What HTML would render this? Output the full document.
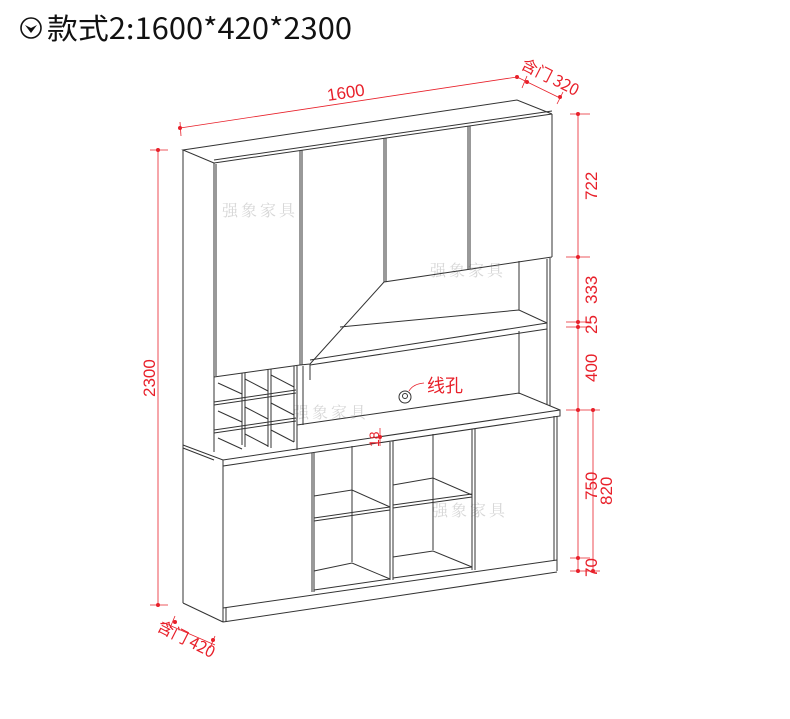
<!DOCTYPE html>
<html><head><meta charset="utf-8"><style>
html,body{margin:0;padding:0;background:#fff;}
svg{display:block;}
</style></head><body>
<svg width="790" height="719" viewBox="0 0 790 719" xmlns="http://www.w3.org/2000/svg" font-family="'Liberation Sans','Noto Sans CJK SC',sans-serif">
<!-- title -->
<circle cx="31" cy="28" r="10" fill="none" stroke="#111" stroke-width="1.6"/>
<path d="M25 25 L31 33 L37 25 L31 28 Z" fill="#111"/>
<text x="47" y="39" font-size="29" fill="#111" font-family="'Noto Sans CJK SC',sans-serif" textLength="305" lengthAdjust="spacingAndGlyphs">款式2:1600*420*2300</text>

<!-- watermarks -->
<g fill="#d6d6d6" font-size="16" font-family="'Noto Serif CJK SC',serif" letter-spacing="3">
<text x="222" y="216">强象家具</text>
<text x="430" y="276">强象家具</text>
<text x="293" y="418">强象家具</text>
<text x="432" y="516">强象家具</text>
</g>

<g fill="none" stroke="#333" stroke-width="1">
<!-- top cabinet -->
<polyline points="214,163 183,150 517,100 552,114"/>
<line x1="214" y1="160" x2="552" y2="111"/>
<line x1="214" y1="163" x2="552" y2="114"/>
<line x1="183" y1="150" x2="183" y2="603"/>
<line x1="214" y1="163" x2="214" y2="452"/>
<line x1="216" y1="164" x2="216" y2="376"/>
<line x1="552" y1="114" x2="552" y2="257"/>
<!-- doors -->
<line x1="300" y1="151" x2="300" y2="365"/>
<line x1="302" y1="150" x2="302" y2="365"/>
<line x1="384" y1="138" x2="384" y2="282"/>
<line x1="386" y1="138" x2="386" y2="282"/>
<line x1="468" y1="126" x2="468" y2="269"/>
<line x1="470" y1="126" x2="470" y2="269"/>
<polyline points="214,377 300,365 310,364 384,282 552,257"/>
<line x1="310" y1="364" x2="310" y2="380"/>
<!-- open middle -->
<line x1="547" y1="259" x2="547" y2="405"/>
<line x1="550" y1="258" x2="550" y2="406"/>
<line x1="519" y1="261" x2="519" y2="310"/>
<line x1="519" y1="331" x2="519" y2="394"/>
<polyline points="340,327 519,310 547,323"/>
<line x1="310" y1="360" x2="547" y2="323"/>
<line x1="310" y1="365" x2="547" y2="329"/>
<line x1="303" y1="366" x2="303" y2="425"/>
<line x1="297" y1="366" x2="297" y2="450"/>
<!-- wine rack -->
<line x1="242" y1="373" x2="242" y2="445"/>
<line x1="245" y1="373" x2="245" y2="447"/>
<line x1="268" y1="369" x2="268" y2="447"/>
<line x1="271" y1="369" x2="271" y2="448"/>
<line x1="294" y1="366" x2="294" y2="442"/>
<line x1="214" y1="402" x2="296" y2="390"/>
<line x1="214" y1="405" x2="296" y2="393"/>
<line x1="214" y1="430" x2="296" y2="418"/>
<line x1="214" y1="433" x2="296" y2="421"/>
<line x1="218" y1="383" x2="242" y2="394"/>
<line x1="245" y1="379" x2="268" y2="391"/>
<line x1="271" y1="375" x2="294" y2="387"/>
<line x1="218" y1="411" x2="242" y2="422"/>
<line x1="245" y1="407" x2="268" y2="419"/>
<line x1="271" y1="403" x2="294" y2="415"/>
<line x1="218" y1="438" x2="242" y2="449"/>
<line x1="245" y1="434" x2="268" y2="446"/>
<line x1="271" y1="430" x2="294" y2="442"/>
<!-- countertop -->
<polyline points="297,425 519,393 560,410"/>
<polyline points="183,445 223,460 560,410 560,416 223,466 223,460"/>
<line x1="183" y1="448" x2="214" y2="460"/>
<!-- lower cabinet -->
<line x1="223" y1="466" x2="223" y2="622"/>
<line x1="557" y1="416" x2="557" y2="571"/>
<line x1="554" y1="416" x2="554" y2="560"/>
<line x1="183" y1="603" x2="223" y2="622"/>
<line x1="223" y1="608" x2="557" y2="560"/>
<line x1="223" y1="622" x2="557" y2="572"/>
<line x1="226" y1="608" x2="226" y2="622"/>
<line x1="312" y1="453" x2="312" y2="592"/>
<line x1="314" y1="453" x2="314" y2="592"/>
<line x1="390" y1="442" x2="390" y2="580"/>
<line x1="393" y1="441" x2="393" y2="580"/>
<line x1="472" y1="429" x2="472" y2="570"/>
<line x1="475" y1="429" x2="475" y2="570"/>
<!-- open section 1 -->
<line x1="352" y1="446" x2="352" y2="562"/>
<polyline points="314,496 352,490 390,507"/>
<line x1="314" y1="518" x2="390" y2="507"/>
<line x1="314" y1="521" x2="390" y2="510"/>
<polyline points="314,571 352,563 390,579"/>
<line x1="314" y1="590" x2="390" y2="579"/>
<!-- open section 2 -->
<line x1="433" y1="434" x2="433" y2="550"/>
<polyline points="393,485 433,478 472,495"/>
<line x1="393" y1="505" x2="472" y2="494"/>
<line x1="393" y1="508" x2="472" y2="497"/>
<polyline points="393,557 433,551 472,567"/>
<line x1="393" y1="578" x2="472" y2="567"/>
<!-- hole -->
<circle cx="405" cy="397" r="6"/>
<circle cx="405" cy="396" r="2.5"/>
</g>

<!-- red dims -->
<g stroke="#e8202a" stroke-width="0.8" fill="none">
<line x1="180" y1="128" x2="517" y2="77"/>
<line x1="180" y1="122" x2="181" y2="136"/>
<line x1="517" y1="77" x2="560" y2="98"/>
<line x1="527" y1="76" x2="522" y2="88"/>
<line x1="563" y1="92" x2="557" y2="104"/>
<line x1="158" y1="150" x2="158" y2="605"/>
<line x1="150" y1="150" x2="168" y2="150"/>
<line x1="150" y1="605" x2="168" y2="605"/>
<line x1="578" y1="114" x2="578" y2="571"/>
<line x1="570" y1="114" x2="590" y2="114"/>
<line x1="566" y1="257" x2="590" y2="257"/>
<line x1="566" y1="322" x2="590" y2="322"/>
<line x1="566" y1="327" x2="590" y2="327"/>
<line x1="566" y1="410" x2="600" y2="410"/>
<line x1="593" y1="410" x2="593" y2="571"/>
<line x1="570" y1="558" x2="590" y2="558"/>
<line x1="570" y1="571" x2="600" y2="571"/>
<line x1="380" y1="428" x2="380" y2="446"/>
<line x1="162" y1="622" x2="215" y2="645"/>
<line x1="175" y1="616" x2="170" y2="628"/>
<line x1="215" y1="636" x2="210" y2="648"/>
<path d="M409 391 Q413 384 424 383"/>
</g>
<g fill="#e8202a">
<circle cx="180" cy="128" r="2"/><circle cx="517" cy="77" r="2"/>
<circle cx="527" cy="82" r="2"/><circle cx="560" cy="97" r="2"/>
<circle cx="158" cy="150" r="2"/><circle cx="158" cy="605" r="2"/>
<circle cx="578" cy="114" r="2"/><circle cx="578" cy="257" r="2"/>
<circle cx="578" cy="322" r="2"/><circle cx="578" cy="327" r="2"/>
<circle cx="578" cy="410" r="2"/><circle cx="593" cy="410" r="2"/>
<circle cx="578" cy="558" r="2"/><circle cx="578" cy="571" r="2"/><circle cx="593" cy="571" r="2"/>
<circle cx="380" cy="437" r="2"/>
<circle cx="175" cy="622" r="2"/><circle cx="213" cy="640" r="2"/>
</g>
<g fill="#e8202a" font-size="17">
<text transform="translate(328,101) rotate(-8.5)">1600</text>
<text transform="translate(520,68) rotate(27)" font-family="'Noto Sans CJK SC',sans-serif" font-size="16">含门 320</text>
<text transform="translate(155,397) rotate(-90)">2300</text>
<text transform="translate(597,200) rotate(-90)">722</text>
<text transform="translate(597,304) rotate(-90)">333</text>
<text transform="translate(597,334) rotate(-90)">25</text>
<text transform="translate(597,382) rotate(-90)">400</text>
<text transform="translate(597,500) rotate(-90)">750</text>
<text transform="translate(612,505) rotate(-90)">820</text>
<text transform="translate(597,577) rotate(-90)">70</text>
<text transform="translate(379,447) rotate(-90)" font-size="14">18</text>
<text transform="translate(156,630) rotate(27)" font-family="'Noto Sans CJK SC',sans-serif" font-size="16">含门 420</text>
<text x="427" y="392" font-size="18" font-family="'Noto Sans CJK SC',sans-serif">线孔</text>
</g>
</svg>
</body></html>
